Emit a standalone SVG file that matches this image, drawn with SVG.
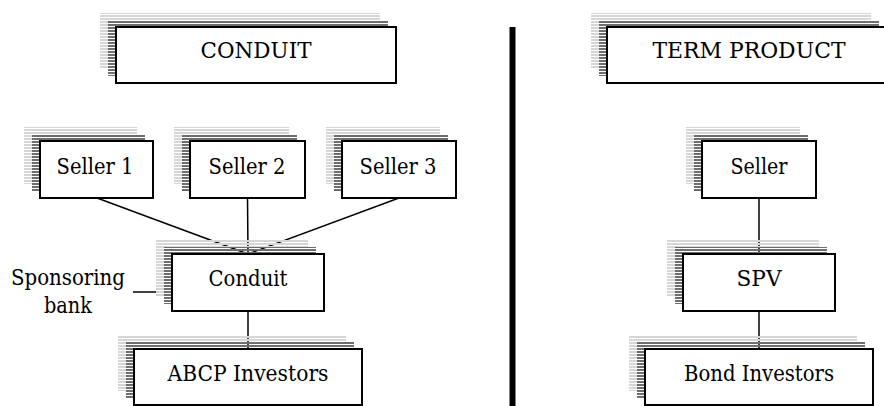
<svg xmlns="http://www.w3.org/2000/svg" width="884" height="406" viewBox="0 0 884 406">
  <defs>
    <!-- striped drop shadows: light outer layer, dark inner layer -->
    <pattern id="stripeLight" patternUnits="userSpaceOnUse" width="6" height="3">
      <rect x="0" y="0" width="6" height="2" fill="#d6d6d6"/>
    </pattern>
    <pattern id="stripeDark" patternUnits="userSpaceOnUse" width="6" height="3">
      <rect x="0" y="0" width="6" height="2" fill="#6e6e6e"/>
    </pattern>
  </defs>
  <style>
    .sh1 { fill: url(#stripeLight); }
    .sh2 { fill: url(#stripeDark); }
    .box { fill: #ffffff; stroke: #000000; stroke-width: 2; }
    .lbl { font-family: "DejaVu Serif", "Liberation Serif", serif; font-size: 23px; fill: #000000; text-anchor: middle; }
    .con { stroke: #000000; stroke-width: 1.5; fill: none; }
  </style>
  <rect x="0" y="0" width="884" height="406" fill="#ffffff"/>

  <!-- connectors -->
  <g id="connectors">
    <line class="con" x1="97" y1="198" x2="248" y2="254"/>
    <line class="con" x1="247.5" y1="198" x2="248" y2="254"/>
    <line class="con" x1="399" y1="198" x2="248" y2="254"/>
    <line class="con" x1="248" y1="311" x2="248" y2="349"/>
    <line class="con" x1="133" y1="292" x2="172" y2="292"/>
    <line class="con" x1="759" y1="198" x2="759" y2="254"/>
    <line class="con" x1="759" y1="311" x2="759" y2="349"/>
  </g>

  <!-- divider between the two structures -->
  <rect id="divider" x="509.5" y="27" width="6" height="379" fill="#000000"/>

  <g id="title-conduit">
    <rect class="sh1" x="100" y="13" width="280" height="56"/>
    <rect class="sh2" x="108" y="20" width="280" height="56"/>
    <rect class="box" x="116" y="27" width="280" height="56"/>
    <text class="lbl" x="256" y="58" textLength="111" lengthAdjust="spacingAndGlyphs">CONDUIT</text>
  </g>

  <g id="title-term">
    <rect class="sh1" x="591" y="13" width="280" height="56"/>
    <rect class="sh2" x="599" y="20" width="280" height="56"/>
    <rect class="box" x="607" y="27" width="280" height="56"/>
    <text class="lbl" x="749" y="58" textLength="193" lengthAdjust="spacingAndGlyphs">TERM PRODUCT</text>
  </g>

  <g id="seller1">
    <rect class="sh1" x="24" y="127" width="113" height="57"/>
    <rect class="sh2" x="32" y="134" width="113" height="57"/>
    <rect class="box" x="40" y="141" width="113" height="57"/>
    <text class="lbl" x="95" y="174" textLength="77" lengthAdjust="spacingAndGlyphs">Seller 1</text>
  </g>

  <g id="seller2">
    <rect class="sh1" x="174" y="127" width="115" height="57"/>
    <rect class="sh2" x="182" y="134" width="115" height="57"/>
    <rect class="box" x="190" y="141" width="115" height="57"/>
    <text class="lbl" x="247" y="174" textLength="77" lengthAdjust="spacingAndGlyphs">Seller 2</text>
  </g>

  <g id="seller3">
    <rect class="sh1" x="326" y="127" width="114" height="57"/>
    <rect class="sh2" x="334" y="134" width="114" height="57"/>
    <rect class="box" x="342" y="141" width="114" height="57"/>
    <text class="lbl" x="398" y="174" textLength="77" lengthAdjust="spacingAndGlyphs">Seller 3</text>
  </g>

  <g id="conduit">
    <rect class="sh1" x="156" y="240" width="152" height="57"/>
    <rect class="sh2" x="164" y="247" width="152" height="57"/>
    <rect class="box" x="172" y="254" width="152" height="57"/>
    <text class="lbl" x="248" y="286" textLength="79" lengthAdjust="spacingAndGlyphs">Conduit</text>
  </g>

  <g id="sponsoring-bank">
    <text class="lbl" x="68" y="285" textLength="114" lengthAdjust="spacingAndGlyphs">Sponsoring</text>
    <text class="lbl" x="68" y="313" textLength="48" lengthAdjust="spacingAndGlyphs">bank</text>
  </g>

  <g id="abcp-investors">
    <rect class="sh1" x="118" y="335" width="228" height="56"/>
    <rect class="sh2" x="126" y="342" width="228" height="56"/>
    <rect class="box" x="134" y="349" width="228" height="56"/>
    <text class="lbl" x="248" y="381" textLength="161" lengthAdjust="spacingAndGlyphs">ABCP Investors</text>
  </g>

  <g id="seller">
    <rect class="sh1" x="686" y="127" width="114" height="57"/>
    <rect class="sh2" x="694" y="134" width="114" height="57"/>
    <rect class="box" x="702" y="141" width="114" height="57"/>
    <text class="lbl" x="759" y="174" textLength="57" lengthAdjust="spacingAndGlyphs">Seller</text>
  </g>

  <g id="spv">
    <rect class="sh1" x="667" y="240" width="152" height="57"/>
    <rect class="sh2" x="675" y="247" width="152" height="57"/>
    <rect class="box" x="683" y="254" width="152" height="57"/>
    <text class="lbl" x="759" y="286" textLength="45" lengthAdjust="spacingAndGlyphs">SPV</text>
  </g>

  <g id="bond-investors">
    <rect class="sh1" x="629" y="335" width="228" height="56"/>
    <rect class="sh2" x="637" y="342" width="228" height="56"/>
    <rect class="box" x="645" y="349" width="228" height="56"/>
    <text class="lbl" x="759" y="381" textLength="150" lengthAdjust="spacingAndGlyphs">Bond Investors</text>
  </g>
</svg>
